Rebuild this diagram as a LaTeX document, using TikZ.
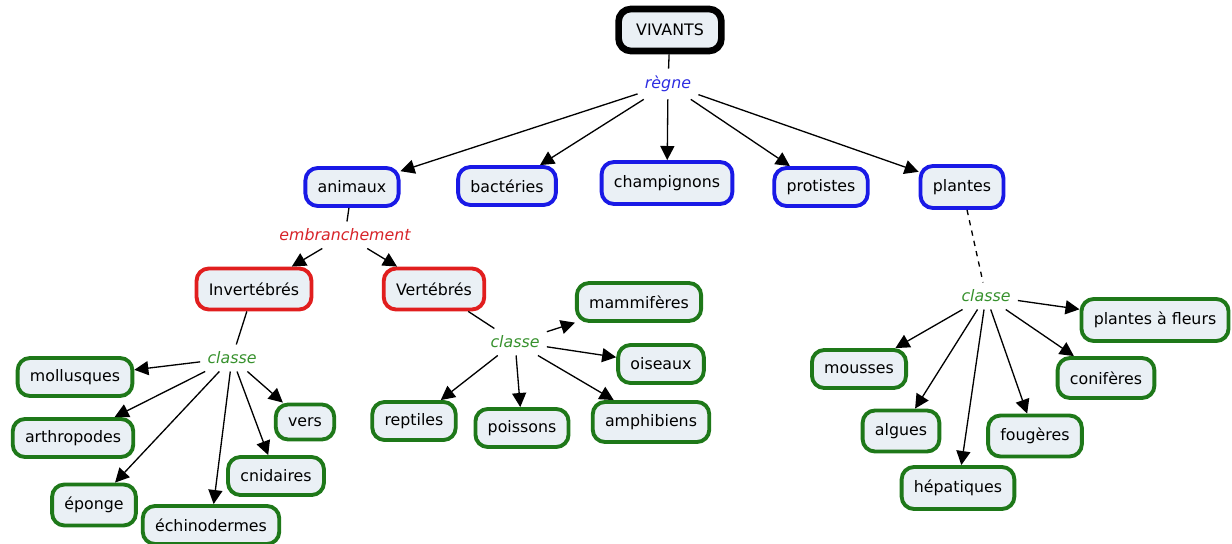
\documentclass[tikz,border=0pt]{standalone}
\usepackage{fontspec}
\setmainfont{DejaVu Sans}
\usetikzlibrary{arrows.meta}
\definecolor{boxfill}{RGB}{234,240,245}
\definecolor{bluebord}{RGB}{25,25,230}
\definecolor{redbord}{RGB}{225,30,30}
\definecolor{greenbord}{RGB}{30,120,25}
\definecolor{reglink}{RGB}{45,45,225}
\definecolor{emblink}{RGB}{215,35,40}
\definecolor{clslink}{RGB}{55,145,45}

\tikzset{
  concept/.style = {draw, rounded corners = 7pt, fill = boxfill, line width = 2.2pt,
    inner xsep = 7pt, minimum height = .76cm, font = \fontsize{9}{11}\selectfont},
  topbox/.style = {concept, draw = black, line width = 3.8pt, minimum height = .84cm, inner xsep = 10pt},
  regbox/.style = {concept, draw = bluebord},
  embbox/.style = {concept, draw = redbord},
  clsbox/.style = {concept, draw = greenbord},
  link/.style = {font = \fontsize{9}{11}\selectfont\itshape, inner sep = 4pt},
  arr/.style = {line width = .75pt, -{Triangle[length=8pt,width=8pt]}},
  plain/.style = {line width = .75pt}
}

\begin{document}
\begin{tikzpicture}[x = .02cm, y = -.02cm]
  \useasboundingbox (0, 0) rectangle (1232, 544);
  % top of the map
  \node (viv) at (670, 30) [topbox] {VIVANTS};
  \node (regne) at (668, 84) [link, text = reglink] {règne};
  \node (anim) at (352, 187) [regbox] {animaux};
  \node (bact) at (507, 186) [regbox] {bactéries};
  \node (champ) at (667, 183) [regbox, minimum height = .84cm] {champignons};
  \node (prot) at (821, 187) [regbox] {protistes};
  \node (plant) at (962, 187) [regbox, minimum height = .84cm] {plantes};
  % animals
  \node (embr) at (345, 235) [link, text = emblink] {embranchement};
  \node (invert) at (254, 289) [embbox, minimum height = .82cm] {Invertébrés};
  \node (vert) at (434, 289) [embbox, minimum height = .82cm] {Vertébrés};
  \node (clsI) at (232, 358) [link, text = clslink] {classe};
  \node (moll) at (75, 377) [clsbox] {mollusques};
  \node (arthr) at (73, 438) [clsbox] {arthropodes};
  \node (epon) at (94, 505) [clsbox, minimum height = .82cm] {éponge};
  \node (echin) at (211, 525) [clsbox] {échinodermes};
  \node (cnid) at (276, 476) [clsbox] {cnidaires};
  \node (vers) at (305, 422) [clsbox, minimum height = .7cm] {vers};
  \node (clsV) at (515, 342) [link, text = clslink] {classe};
  \node (mamm) at (639, 302) [clsbox] {mammifères};
  \node (ois) at (661, 364) [clsbox] {oiseaux};
  \node (amph) at (651, 422) [clsbox, minimum height = .8cm] {amphibiens};
  \node (poiss) at (522, 428) [clsbox] {poissons};
  \node (rept) at (414, 421) [clsbox] {reptiles};
  % plants
  \node (clsP) at (986, 296) [link, text = clslink] {classe};
  \node (fleurs) at (1155, 320) [clsbox, minimum height = .84cm] {plantes à fleurs};
  \node (conif) at (1106, 378) [clsbox, minimum height = .8cm] {conifères};
  \node (foug) at (1035, 436) [clsbox, minimum height = .82cm] {fougères};
  \node (hepat) at (958, 488) [clsbox, minimum height = .84cm] {hépatiques};
  \node (algu) at (901, 431) [clsbox, minimum height = .82cm] {algues};
  \node (mouss) at (859, 369) [clsbox] {mousses};

  \draw [plain] (viv) -- (regne);
  \foreach \k in {anim, bact, champ, prot, plant}
    \draw [arr] (regne) -- (\k);
  \draw [plain] (anim) -- (embr);
  \draw [arr] (embr) -- (invert);
  \draw [arr] (embr) -- (vert);
  \draw [plain] (invert) -- (clsI);
  \foreach \k in {moll, arthr, epon, echin, cnid, vers}
    \draw [arr] (clsI) -- (\k);
  \draw [plain] (vert) -- (clsV);
  \foreach \k in {mamm, ois, amph, poiss, rept}
    \draw [arr] (clsV) -- (\k);
  \draw [plain, dashed] (plant) -- (clsP);
  \foreach \k in {fleurs, conif, foug, hepat, algu, mouss}
    \draw [arr] (clsP) -- (\k);
\end{tikzpicture}
\end{document}
